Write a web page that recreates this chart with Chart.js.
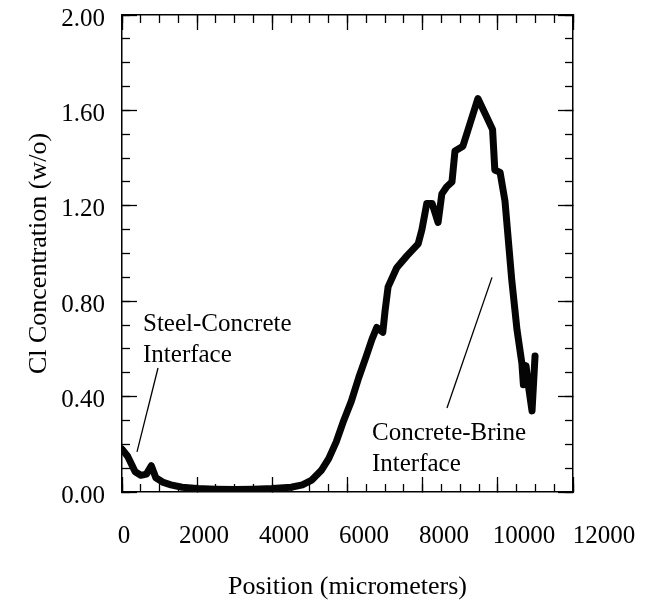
<!DOCTYPE html>
<html>
<head>
<meta charset="utf-8">
<script src="https://cdn.jsdelivr.net/npm/chart.js@4.4.1/dist/chart.umd.min.js"></script>
<style>
  html, body { margin: 0; padding: 0; background: #fff; }
</style>
</head>
<body>
<canvas id="grafica" width="655" height="601"></canvas>
<script>
// ---------------- data ----------------
const POSITION = [0, 150, 350, 500, 650, 780, 900, 1100, 1300, 1600, 2000, 2500, 3000, 3500, 4000, 4500,
  4800, 5050, 5300, 5500, 5700, 5900, 6100, 6300, 6500, 6650, 6780, 6940, 7000, 7080, 7310, 7580, 7880,
  7980, 8110, 8250, 8410, 8510, 8640, 8780, 8860, 9070, 9250, 9470, 9710, 9860, 9920, 10060, 10190,
  10370, 10510, 10640, 10680, 10750, 10810, 10910, 10990];
const CL = [0.18, 0.15, 0.085, 0.07, 0.075, 0.11, 0.06, 0.04, 0.03, 0.02, 0.015, 0.012, 0.01, 0.012, 0.015, 0.02,
  0.03, 0.05, 0.09, 0.14, 0.21, 0.30, 0.38, 0.48, 0.57, 0.64, 0.69, 0.67, 0.76, 0.86, 0.94, 0.99, 1.04,
  1.10, 1.21, 1.21, 1.13, 1.25, 1.28, 1.30, 1.43, 1.45, 1.54, 1.65, 1.57, 1.52, 1.35, 1.34, 1.22,
  0.89, 0.68, 0.54, 0.45, 0.53, 0.45, 0.34, 0.57];

const X_RANGE = [0, 12000];
const Y_RANGE = [0, 2];
const X_LABELS = [0, 2000, 4000, 6000, 8000, 10000, 12000];
const X_LABEL_RANGE = [-50, 11225];   // the printed numbers sit a bit wider than the tick marks

const NOTE_TEXT = [["Steel-Concrete", "Interface"], ["Concrete-Brine", "Interface"]];
const NOTE_AT = [[559, 0.702], [6652, 0.245]];
const LEADERS = [[[958, 0.52], [399, 0.168]], [[9845, 0.90], [8647, 0.352]]];

const FONT = "'Liberation Serif', 'Times New Roman', serif";

// ---------------- helpers ----------------
function sinPadding(s) {
  s.paddingLeft = 0; s.paddingRight = 0; s.paddingTop = 0; s.paddingBottom = 0;
}
function sinTamano(s) {
  if (s.isHorizontal()) s.height = 0; else s.width = 0;
  sinPadding(s);
}

// axis that only draws inward tick marks on one side of the frame
function ejeMarcas(position, range, step, len, weight, border) {
  return {
    type: 'linear', position, min: range[0], max: range[1], weight,
    ticks: { stepSize: step, display: false, autoSkip: false, maxTicksLimit: 200 },
    grid: { display: true, drawOnChartArea: false, drawTicks: true, tickLength: -len, tickColor: '#000', tickWidth: 1.3 },
    border: { display: border, color: '#000', width: 1.5 },
    afterFit: sinTamano
  };
}

// ---------------- annotations ----------------
const notasPlugin = {
  id: 'notas',
  afterDatasetsDraw(chart) {
    const { ctx } = chart;
    const x = chart.scales.x, y = chart.scales.y;
    ctx.save();
    ctx.strokeStyle = '#000';
    ctx.lineWidth = 1.3;
    LEADERS.forEach(seg => {
      ctx.beginPath();
      ctx.moveTo(x.getPixelForValue(seg[0][0]), y.getPixelForValue(seg[0][1]));
      ctx.lineTo(x.getPixelForValue(seg[1][0]), y.getPixelForValue(seg[1][1]));
      ctx.stroke();
    });
    ctx.fillStyle = '#000';
    ctx.font = '25px ' + FONT;
    ctx.textAlign = 'left';
    ctx.textBaseline = 'middle';
    NOTE_TEXT.forEach((lines, i) => {
      const px = x.getPixelForValue(NOTE_AT[i][0]);
      const py = y.getPixelForValue(NOTE_AT[i][1]);
      lines.forEach((t, k) => ctx.fillText(t, px, py + k * 31));
    });
    ctx.restore();
  }
};

// ---------------- chart ----------------
const yPrincipal = ejeMarcas('left', Y_RANGE, 0.4, 15, 2, true);
yPrincipal.ticks = {
  stepSize: 0.4, display: true, autoSkip: false, padding: 32, labelOffset: 4,
  color: '#000', font: { family: FONT, size: 25 },
  callback: v => Number(v).toFixed(2)
};
yPrincipal.title = {
  display: true, text: 'Cl Concentration (w/o)', color: '#000',
  font: { family: FONT, size: 26, lineHeight: 1 }, padding: { top: 26, bottom: 0 }
};
yPrincipal.afterFit = s => { s.width = 122; sinPadding(s); };

const ctx = document.getElementById('grafica').getContext('2d');
new Chart(ctx, {
  type: 'line',
  data: {
    datasets: [{
      data: POSITION.map((p, i) => ({ x: p, y: CL[i] })),
      borderColor: '#050505',
      borderWidth: 7,
      borderJoinStyle: 'round',
      borderCapStyle: 'round',
      pointRadius: 0,
      tension: 0,
      fill: false
    }]
  },
  options: {
    responsive: false,
    animation: false,
    layout: { padding: { top: 15, right: 82, bottom: 0, left: 0 } },
    plugins: { legend: { display: false }, tooltip: { enabled: false } },
    scales: {
      x: ejeMarcas('bottom', X_RANGE, 2000, 15, 0, true),
      xMenor: ejeMarcas('bottom', X_RANGE, 500, 8, 1, false),
      xLab: {
        type: 'linear', position: 'bottom', min: X_LABEL_RANGE[0], max: X_LABEL_RANGE[1], weight: 5,
        afterBuildTicks: s => { s.ticks = X_LABELS.map(v => ({ value: v })); },
        ticks: {
          autoSkip: false, maxRotation: 0, padding: 29, color: '#000',
          font: { family: FONT, size: 25 }, callback: v => String(v)
        },
        grid: { display: false, drawTicks: false },
        border: { display: false },
        title: {
          display: true, text: 'Position (micrometers)', color: '#000',
          font: { family: FONT, size: 26, lineHeight: 1 }, padding: { top: 0, bottom: 1 }
        },
        afterFit: s => { s.height = 109; sinPadding(s); }
      },
      xArriba: ejeMarcas('top', X_RANGE, 2000, 15, 1, true),
      xArribaMenor: ejeMarcas('top', X_RANGE, 500, 8, 0, false),
      y: yPrincipal,
      yMenor: ejeMarcas('left', Y_RANGE, 0.1, 8, 1, false),
      yDerecha: ejeMarcas('right', Y_RANGE, 0.4, 15, 0, true),
      yDerechaMenor: ejeMarcas('right', Y_RANGE, 0.1, 8, 1, false)
    }
  },
  plugins: [notasPlugin]
});
</script>
</body>
</html>
